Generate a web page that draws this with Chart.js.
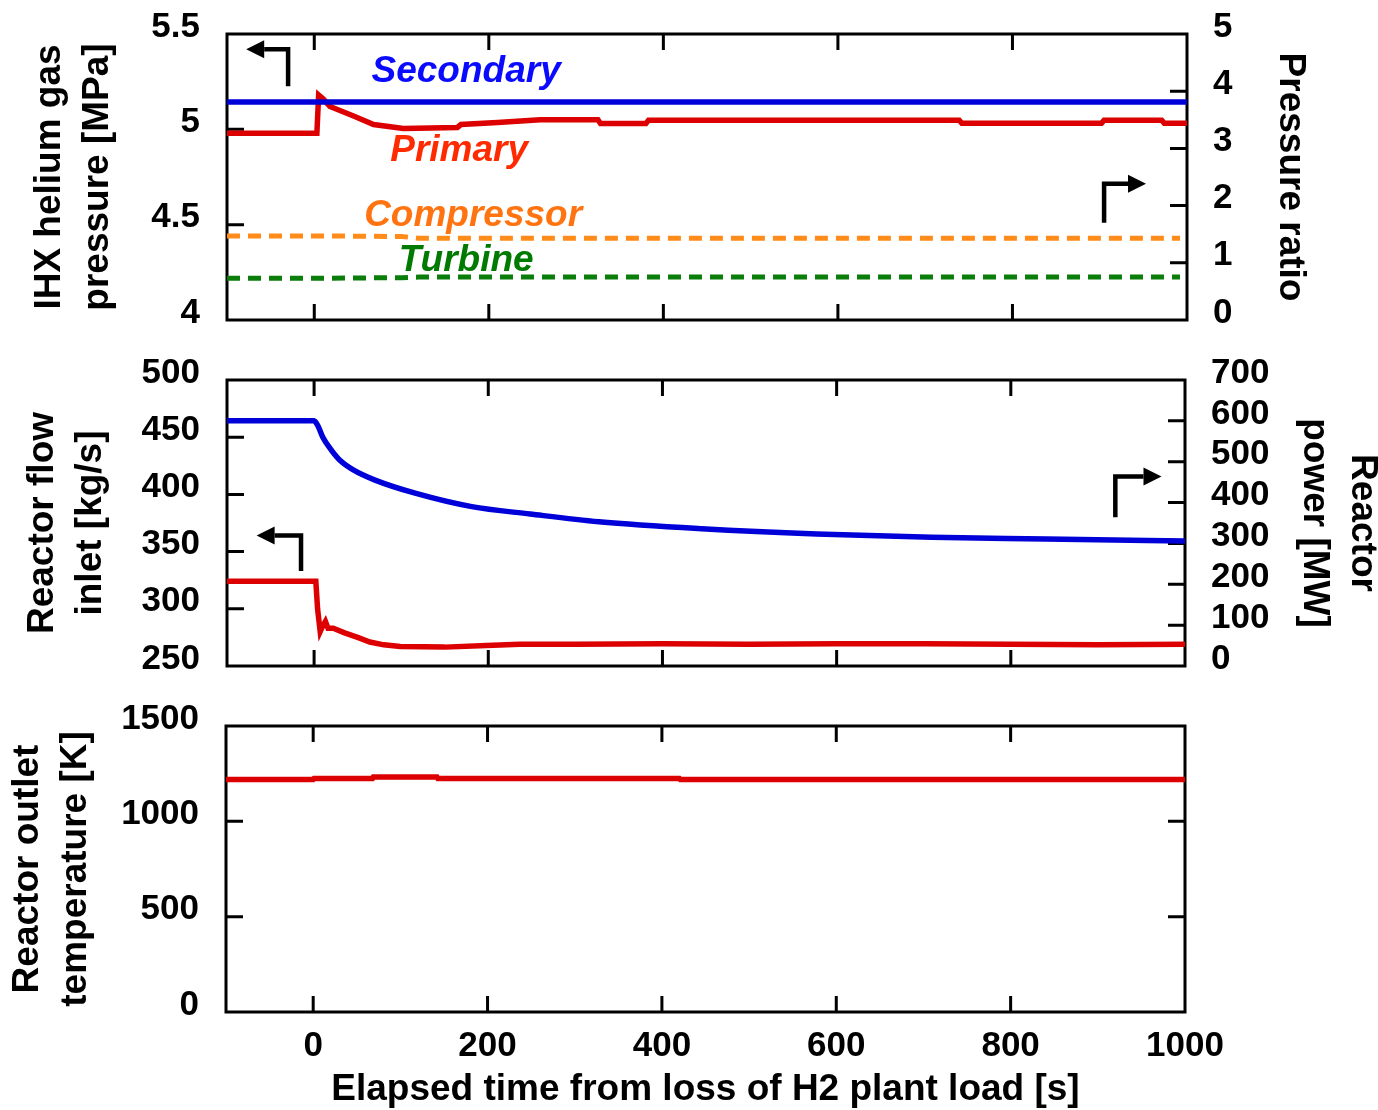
<!DOCTYPE html>
<html>
<head>
<meta charset="utf-8">
<script src="https://cdn.jsdelivr.net/npm/chart.js@4.4.0/dist/chart.umd.min.js"></script>
<style>
  html, body { margin: 0; padding: 0; background: #fff; overflow: hidden; }
  #wrap { position: relative; width: 1378px; height: 1110px; overflow: hidden; }
  .panel { position: absolute; left: 0; width: 1378px; }
</style>
</head>
<body>
<div id="wrap">
  <div class="panel" style="top:-14px;height:382px"><canvas id="pressureChart"></canvas></div>
  <div class="panel" style="top:332px;height:382px"><canvas id="flowChart"></canvas></div>
  <div class="panel" style="top:678px;height:432px"><canvas id="tempChart"></canvas></div>
</div>
<script>
// shared time axis
const timeTicks = [0, 200, 400, 600, 800, 1000];

// IHX helium gas pressure [MPa]
const secondaryTime = [-100, 1000];
const secondaryPressure = [5.143, 5.143];
const primaryTime = [-100, 3, 5, 10, 18, 45, 68, 102, 164, 168, 210, 259, 325, 328, 380, 383, 739, 742, 902, 905, 971, 974, 1000];
const primaryPressure = [4.98, 4.98, 5.18, 5.16, 5.12, 5.07, 5.025, 5.005, 5.01, 5.025, 5.036, 5.05, 5.05, 5.03, 5.03, 5.048, 5.048, 5.032, 5.032, 5.048, 5.048, 5.032, 5.032];

// pressure ratio
const ratioTime = [-100, 0, 100, 120, 992];
const compressorRatio = [1.47, 1.47, 1.46, 1.43, 1.43];
const turbineRatio = [0.73, 0.73, 0.74, 0.75, 0.75];

// reactor power [MW]
const powerTime = [-100, 0, 5, 10, 20, 30, 45, 70, 116, 181, 248, 327, 445, 577, 709, 841, 1000];
const powerMW = [600, 600, 585, 560, 528, 503, 480, 455, 423, 390, 372, 353, 336, 323, 315, 311, 306];

// reactor inlet flow [kg/s]
const flowTime = [-100, 2, 4, 7, 10, 13, 16, 22, 35, 50, 64, 80, 99, 150, 198, 236, 300, 400, 500, 600, 700, 800, 900, 1000];
const flowKgs = [324, 324, 300, 280, 285, 289, 283, 283, 279, 275, 271, 268.5, 267, 266.5, 268, 269, 269, 269.5, 269, 269.5, 269.5, 269, 268.5, 269];

// reactor outlet temperature [K]
const tempTime = [-100, 0, 1, 68, 69, 142, 143, 420, 421, 1000];
const tempK = [1220, 1220, 1225, 1225, 1232, 1232, 1225, 1225, 1220, 1220];

Chart.defaults.font.family = "'Liberation Sans', Arial, sans-serif";
Chart.defaults.font.weight = 'bold';
Chart.defaults.color = '#000';

function pairs(xs, ys) {
  return xs.map((x, i) => ({ x: x, y: ys[i] }));
}

// frame + inward tick marks
const framePlugin = {
  id: 'frame',
  beforeDatasetsDraw(chart) {
    const { ctx, chartArea: a, scales } = chart;
    const inner = s => s.ticks.map(t => t.value).filter(v => v > s.min && v < s.max);
    ctx.save();
    ctx.strokeStyle = '#000';
    ctx.lineWidth = 3;
    ctx.strokeRect(a.left, a.top, a.right - a.left, a.bottom - a.top);
    ctx.beginPath();
    timeTicks.filter(v => v > scales.x.min && v < scales.x.max).forEach(v => {
      const px = scales.x.getPixelForValue(v);
      ctx.moveTo(px, a.top); ctx.lineTo(px, a.top + 16);
      ctx.moveTo(px, a.bottom); ctx.lineTo(px, a.bottom - 16);
    });
    const right = scales.y1 || scales.y;
    inner(scales.y).forEach(v => {
      const py = scales.y.getPixelForValue(v);
      ctx.moveTo(a.left, py); ctx.lineTo(a.left + 17, py);
    });
    inner(right).forEach(v => {
      const py = right.getPixelForValue(v);
      ctx.moveTo(a.right, py); ctx.lineTo(a.right - 17, py);
    });
    ctx.stroke();
    ctx.restore();
  }
};

// text labels and bent arrows placed in data coordinates
const notesPlugin = {
  id: 'notes',
  afterDatasetsDraw(chart, args, opts) {
    const { ctx, scales } = chart;
    ctx.save();
    (opts.texts || []).forEach(t => {
      ctx.font = "italic bold 37px 'Liberation Sans', Arial, sans-serif";
      ctx.fillStyle = t.color;
      ctx.textAlign = 'center';
      ctx.textBaseline = 'middle';
      ctx.fillText(t.text, scales.x.getPixelForValue(t.x), scales.y.getPixelForValue(t.y));
    });
    (opts.arrows || []).forEach(a => {
      const cx = scales.x.getPixelForValue(a.cornerX);
      const cy = scales.y.getPixelForValue(a.cornerY);
      const ty = scales.y.getPixelForValue(a.tailY);
      const tx = scales.x.getPixelForValue(a.tipX);
      const dir = Math.sign(tx - cx);
      const head = 18, half = 9;
      ctx.strokeStyle = '#000';
      ctx.fillStyle = '#000';
      ctx.lineWidth = 4.5;
      ctx.lineJoin = 'miter';
      ctx.beginPath();
      ctx.moveTo(cx, ty); ctx.lineTo(cx, cy); ctx.lineTo(tx - dir * head, cy);
      ctx.stroke();
      ctx.beginPath();
      ctx.moveTo(tx, cy);
      ctx.lineTo(tx - dir * head, cy - half);
      ctx.lineTo(tx - dir * head, cy + half);
      ctx.closePath();
      ctx.fill();
    });
    ctx.restore();
  }
};

function timeAxis(show) {
  return {
    type: 'linear', min: -100, max: 1000, display: show,
    afterBuildTicks: s => { s.ticks = timeTicks.map(v => ({ value: v })); },
    afterFit: s => { if (show) s.height = 98; },
    grid: { display: false, drawTicks: false },
    border: { display: false },
    ticks: { padding: 13, font: { size: 35 }, callback: v => String(v) },
    title: {
      display: true, text: 'Elapsed time from loss of H2 plant load [s]',
      font: { size: 37, lineHeight: 1.2 }, padding: { top: 0, bottom: -2 }
    }
  };
}

function valueAxis(position, min, max, step, title, titlePad, width) {
  return {
    type: 'linear', position: position, min: min, max: max,
    afterFit: s => { s.width = width; },
    grid: { display: false, drawTicks: false },
    border: { display: false },
    ticks: {
      stepSize: step, autoSkip: false, padding: position === 'left' ? 27 : 26,
      labelOffset: -7, font: { size: 35 }, callback: v => String(v)
    },
    title: {
      display: true, text: title,
      font: { size: 37, lineHeight: 1.3 }, padding: { top: titlePad, bottom: 0 }
    }
  };
}

function lineSet(xs, ys, color, axis, extra) {
  return Object.assign({
    data: pairs(xs, ys), borderColor: color, borderWidth: 5.5,
    pointRadius: 0, tension: 0, yAxisID: axis
  }, extra || {});
}

function baseOptions(padding, scales, notes) {
  return {
    responsive: true, maintainAspectRatio: false, animation: false,
    layout: { padding: padding },
    scales: scales,
    plugins: { legend: { display: false }, tooltip: { enabled: false }, notes: notes || {} }
  };
}

// Pressure panel
new Chart(document.getElementById('pressureChart').getContext('2d'), {
  type: 'line',
  data: {
    datasets: [
      lineSet(secondaryTime, secondaryPressure, '#0000d8', 'y'),
      lineSet(primaryTime, primaryPressure, '#dd0000', 'y'),
      lineSet(ratioTime, compressorRatio, '#ff8c1a', 'y1', { borderDash: [13, 8], borderWidth: 5 }),
      lineSet(ratioTime, turbineRatio, '#0b7d0b', 'y1', { borderDash: [13, 8], borderWidth: 5 })
    ]
  },
  options: baseOptions({ top: 0, bottom: 0, left: 0, right: 0 }, {
    x: timeAxis(false),
    y: valueAxis('left', 4, 5.5, 0.5, ['IHX helium gas', 'pressure [MPa]'], 26, 227),
    y1: valueAxis('right', 0, 5, 1, 'Pressure ratio', 64, 191)
  }, {
    texts: [
      { text: 'Secondary', color: '#0a0aff', x: 174, y: 5.30 },
      { text: 'Primary', color: '#ff2a00', x: 166, y: 4.89 },
      { text: 'Compressor', color: '#ff7410', x: 182, y: 4.544 },
      { text: 'Turbine', color: '#007a00', x: 174, y: 4.308 }
    ],
    arrows: [
      { cornerX: -30, cornerY: 5.42, tailY: 5.226, tipX: -78 },
      { cornerX: 905, cornerY: 4.714, tailY: 4.51, tipX: 953 }
    ]
  }),
  plugins: [framePlugin, notesPlugin]
});

// Flow / power panel
new Chart(document.getElementById('flowChart').getContext('2d'), {
  type: 'line',
  data: {
    datasets: [
      lineSet(powerTime, powerMW, '#0000d8', 'y1', { cubicInterpolationMode: 'monotone' }),
      lineSet(flowTime, flowKgs, '#dd0000', 'y')
    ]
  },
  options: baseOptions({ top: 0, bottom: 0, left: 0, right: 0 }, {
    x: timeAxis(false),
    y: valueAxis('left', 250, 500, 50, ['Reactor flow', 'inlet [kg/s]'], 19, 227),
    y1: valueAxis('right', 0, 700, 100, ['Reactor', 'power [MW]'], -8, 193)
  }, {
    arrows: [
      { cornerX: -15, cornerY: 364, tailY: 333, tipX: -66 },
      { cornerX: 920, cornerY: 415.7, tailY: 380, tipX: 973 }
    ]
  }),
  plugins: [framePlugin, notesPlugin]
});

// Outlet temperature panel
new Chart(document.getElementById('tempChart').getContext('2d'), {
  type: 'line',
  data: {
    datasets: [
      lineSet(tempTime, tempK, '#dd0000', 'y')
    ]
  },
  options: baseOptions({ top: 0, bottom: 0, left: 0, right: 193 }, {
    x: timeAxis(true),
    y: valueAxis('left', 0, 1500, 500, ['Reactor outlet', 'temperature [K]'], 4, 226)
  }),
  plugins: [framePlugin, notesPlugin]
});
</script>
</body>
</html>
